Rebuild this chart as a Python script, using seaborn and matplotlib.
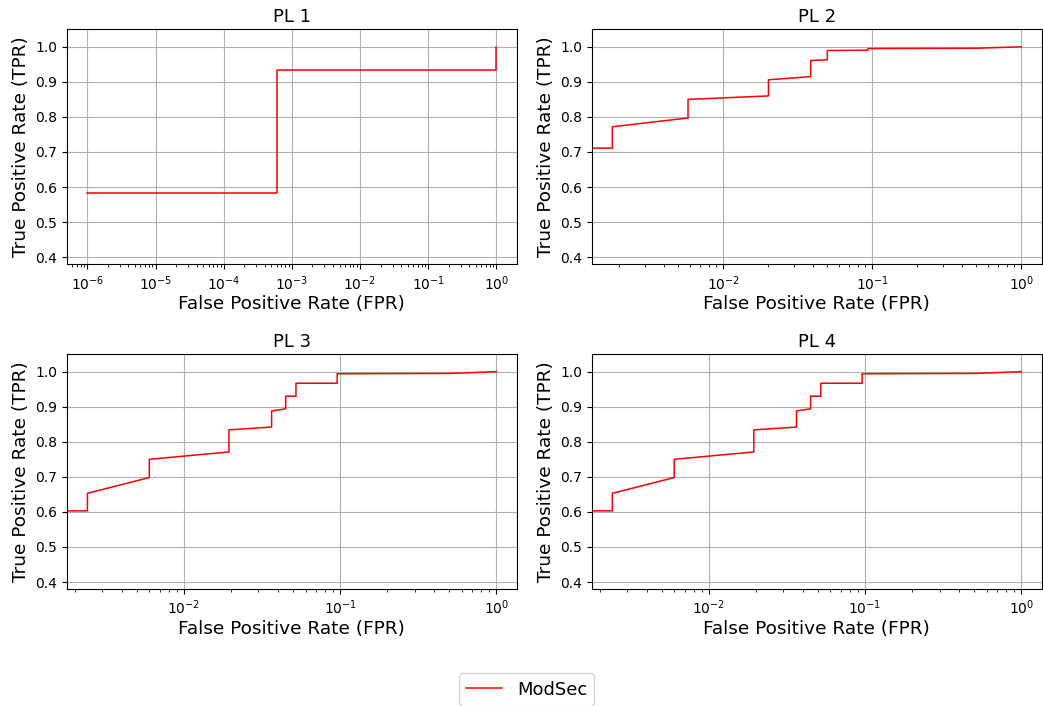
import matplotlib
matplotlib.use("Agg")
import matplotlib.pyplot as plt
import seaborn as sns
import pandas as pd

# ROC points (FPR on log axis)
pl1_fpr = [1e-6, 6.0e-4, 6.0e-4, 1.0, 1.0]
pl1_tpr = [0.582, 0.582, 0.935, 0.935, 1.0]

pl2_fpr = [0.0, 0.0018, 0.0018, 0.0058, 0.0058, 0.0201, 0.0201, 0.0386, 0.0386,
           0.0499, 0.0499, 0.0937, 0.0937, 0.5, 1.0]
pl2_tpr = [0.711, 0.711, 0.772, 0.797, 0.850, 0.860, 0.906, 0.915, 0.961,
           0.963, 0.9895, 0.9905, 0.995, 0.996, 1.0]

pl3_fpr = [0.0, 0.00241, 0.00241, 0.0060, 0.0060, 0.0194, 0.0194, 0.0364, 0.0364,
           0.0448, 0.0448, 0.0521, 0.0521, 0.0957, 0.0957, 0.508, 1.0]
pl3_tpr = [0.603, 0.603, 0.653, 0.698, 0.750, 0.771, 0.834, 0.842, 0.888,
           0.894, 0.930, 0.930, 0.967, 0.967, 0.994, 0.995, 1.0]

pl4_fpr = [0.0, 0.00241, 0.00241, 0.0060, 0.0060, 0.0194, 0.0194, 0.0364, 0.0364,
           0.0448, 0.0448, 0.0521, 0.0521, 0.0957, 0.0957, 0.508, 1.0]
pl4_tpr = [0.603, 0.603, 0.653, 0.698, 0.750, 0.771, 0.834, 0.842, 0.888,
           0.894, 0.930, 0.930, 0.967, 0.967, 0.994, 0.995, 1.0]

titles = ["PL 1", "PL 2", "PL 3", "PL 4"]
curves = [(pl1_fpr, pl1_tpr), (pl2_fpr, pl2_tpr), (pl3_fpr, pl3_tpr), (pl4_fpr, pl4_tpr)]
yticks = [0.4, 0.5, 0.6, 0.7, 0.8, 0.9, 1.0]

fig, axes = plt.subplots(2, 2, figsize=(10.43, 7.06), dpi=100)
fig.subplots_adjust(left=0.0642, right=0.9988, top=0.9585, bottom=0.1657,
                    wspace=0.1667, hspace=0.383)

for ax, title, (fpr, tpr) in zip(axes.flat, titles, curves):
    df = pd.DataFrame({"FPR": fpr, "TPR": tpr})
    sns.lineplot(data=df, x="FPR", y="TPR", sort=False, estimator=None,
                 color="red", lw=1.1, label="ModSec", ax=ax)
    ax.set_xscale("log")
    ax.set_ylim(0.38, 1.05)
    ax.set_yticks(yticks)
    ax.grid(True)
    ax.set_title(title, fontsize=13, pad=5)
    ax.set_xlabel("False Positive Rate (FPR)", fontsize=13.3, labelpad=2)
    ax.set_ylabel("True Positive Rate (TPR)", fontsize=13.3)
    ax.tick_params(labelsize=10)
    ax.get_legend().remove()

handles, labels = axes[0, 0].get_legend_handles_labels()
fig.legend(handles, labels, loc="upper center", bbox_to_anchor=(0.505, 0.059),
           fontsize=13, ncol=1)

fig.savefig("out.png", dpi=100)
